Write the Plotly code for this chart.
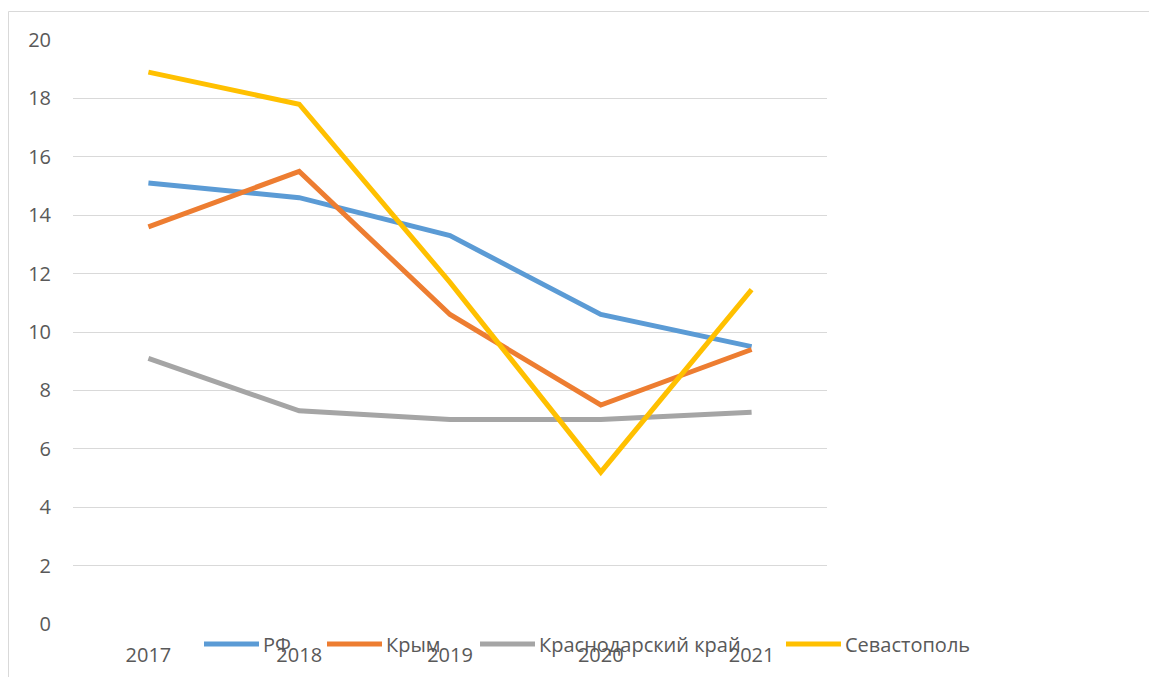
import plotly.graph_objects as go

years = ["2017", "2018", "2019", "2020", "2021"]
rf = [15.1, 14.6, 13.3, 10.6, 9.5]
krym = [13.6, 15.5, 10.6, 7.5, 9.4]
krasnodar = [9.1, 7.3, 7.0, 7.0, 7.25]
sevastopol = [18.9, 17.8, 11.7, 5.2, 11.45]

series_names = ["РФ", "Крым", "Краснодарский край", "Севастополь"]
series_values = [rf, krym, krasnodar, sevastopol]
colors = ["#5B9BD5", "#ED7D31", "#A5A5A5", "#FFC000"]

FONT = "Open Sans"
FS = 20
TXT = "#595959"
LW = 5
WIDTH, HEIGHT = 1149, 677
L, R, T, B = 73, 322, 40, 53
PW = WIDTH - L - R
PH = HEIGHT - T - B


def px(x):
    return (x - L) / PW


def py(y):
    return (HEIGHT - B - y) / PH


fig = go.Figure()
for name, vals, col in zip(series_names, series_values, colors):
    fig.add_trace(go.Scatter(
        x=years, y=vals, mode="lines", name=name,
        line=dict(color=col, width=LW), showlegend=False,
    ))

# manual legend (Excel-style long samples)
legend_starts = [204, 327, 480, 786]
sample_len = 55
shapes = []
annotations = []
ly = py(644)
for name, col, x0 in zip(series_names, colors, legend_starts):
    shapes.append(dict(type="line", xref="paper", yref="paper",
                       x0=px(x0), x1=px(x0 + sample_len), y0=ly, y1=ly,
                       line=dict(color=col, width=LW)))
    annotations.append(dict(xref="paper", yref="paper", x=px(x0 + sample_len + 2), y=ly,
                            text=name, showarrow=False, xanchor="left", yanchor="middle",
                            font=dict(family=FONT, size=FS, color=TXT)))

# chart border
shapes.append(dict(type="rect", xref="paper", yref="paper",
                   x0=px(8.5), x1=px(WIDTH + 20), y0=py(HEIGHT + 20), y1=py(11.5),
                   line=dict(color="#D9D9D9", width=1), layer="below"))

fig.update_layout(
    width=WIDTH, height=HEIGHT,
    margin=dict(l=L, r=R, t=T, b=B, autoexpand=False),
    paper_bgcolor="white", plot_bgcolor="white",
    font=dict(family=FONT, size=FS, color=TXT),
    shapes=shapes, annotations=annotations,
    xaxis=dict(type="category", range=[-0.5, 4.5], showgrid=False, zeroline=False,
               showline=False, ticks="", ticklabelstandoff=17,
               tickfont=dict(family=FONT, size=FS, color=TXT)),
    yaxis=dict(range=[0, 20], dtick=2, tick0=0, showgrid=True, gridcolor="#D9D9D9",
               gridwidth=1.4, zeroline=False, showline=False, ticks="",
               ticklabelstandoff=21, tickfont=dict(family=FONT, size=FS, color=TXT)),
)

fig.write_html("out.html", config={"displayModeBar": False},
               post_script="document.body.style.margin='0';document.body.style.overflow='hidden';")
